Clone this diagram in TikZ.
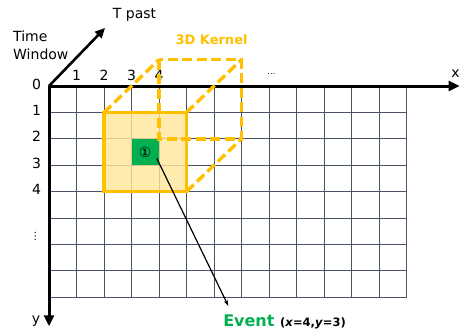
\documentclass[tikz,border=0pt]{standalone}
\usepackage{fontspec}
\setmainfont{DejaVu Sans}
\usetikzlibrary{arrows.meta}
\definecolor{kernelorange}{HTML}{FFC000}
\definecolor{kernelfill}{HTML}{FFE699}
\definecolor{eventgreen}{HTML}{00B050}
\definecolor{gridgray}{HTML}{4A5366}
\tikzset{
  gridline/.style={gridgray, line width=0.8pt},
  axisline/.style={line width=3pt, -{Triangle[length=11pt,width=10pt]}},
  kernelback/.style={kernelorange, line width=3.4pt, dash pattern=on 10pt off 4.5pt},
  kernelfront/.style={kernelorange, line width=3.5pt},
  axislabel/.style={font=\fontsize{14}{14}\selectfont, inner sep=0pt},
}

\begin{document}
\begin{tikzpicture}[x=27.5pt, y=-26.4pt]
    \useasboundingbox (-1.782,-3.258) rectangle (14.945,9.280);

    %% Grid
    \foreach \i in {0,...,13}
        \draw[gridline] (\i,0) -- (\i,8);
    \foreach \j in {1,...,8}
        \draw[gridline] (0,\j) -- (13,\j);

    %% Kernel cells
    \fill[kernelfill, fill opacity=0.8] (2,1) rectangle (5,4);
    \node[fill=eventgreen, minimum width=27.5pt, minimum height=26.4pt,
        inner sep=0pt, font=\fontsize{14}{14}\selectfont]
        (ev) at (3.5,2.5) {①};

    %% Axes
    \coordinate (O) at (0,0);
    \coordinate (xend) at (14.93,0);
    \coordinate (yend) at (0,9.1);
    \coordinate (tend) at (2.04,-2.2);
    \draw[axisline] (O) -- (xend);
    \draw[axisline] (O) -- (yend);
    \draw[line width=2.6pt, -{Triangle[length=10pt,width=9pt]}] (O) -- (tend);

    %% Axis labels
    \node[axislabel, anchor=base] at (14.78,-0.34) {x};
    \node[axislabel, anchor=base] at (-0.47,8.98) {y};
    \node[axislabel] at (3.11,-2.69) {T past};
    \node[axislabel, anchor=north west, align=left,
        font=\fontsize{14}{18}\selectfont]
        at (-1.31,-2.08) {Time\\Window};
    \foreach \i in {1,...,4}
        \node[axislabel] at (\i,-0.42) {\i};
    \node[font=\fontsize{8}{8}\selectfont, anchor=base] at (8.09,-0.45) {…};
    \foreach \j in {0,...,4}
        \node[axislabel] at (-0.45,\j-0.08) {\j};
    \node[font=\fontsize{10}{10}\selectfont] at (-0.5,5.7) {⋮};

    %% 3D kernel
    \draw[kernelback] (4,-1) rectangle (7,2);
    \draw[kernelback] (2,1) -- (4,-1);
    \draw[kernelback] (5,1) -- (7,-1);
    \draw[kernelback] (5,4) -- (7,2);
    \draw[kernelfront] (2,1) rectangle (5,4);
    \node[font=\fontsize{13}{13}\selectfont\bfseries, kernelorange,
        anchor=base, inner sep=0pt]
        at (5.91,-1.59) {3D Kernel};

    %% Event
    \node[font=\fontsize{16}{16}\selectfont\bfseries, anchor=base west,
        inner sep=0pt]
        (event) at (6.33,9.12)
        {\textcolor{eventgreen}{Event}
        {\fontsize{11.5}{12}\selectfont(\textit{x}=4,\textit{y}=3)}};
    \coordinate (evsrc) at (3.92,2.74);
    \coordinate (evtip) at (6.52,8.33);
    \draw[line width=1.2pt, -{Stealth[length=6pt,width=4pt]}] (evsrc) -- (evtip);
\end{tikzpicture}
\end{document}
